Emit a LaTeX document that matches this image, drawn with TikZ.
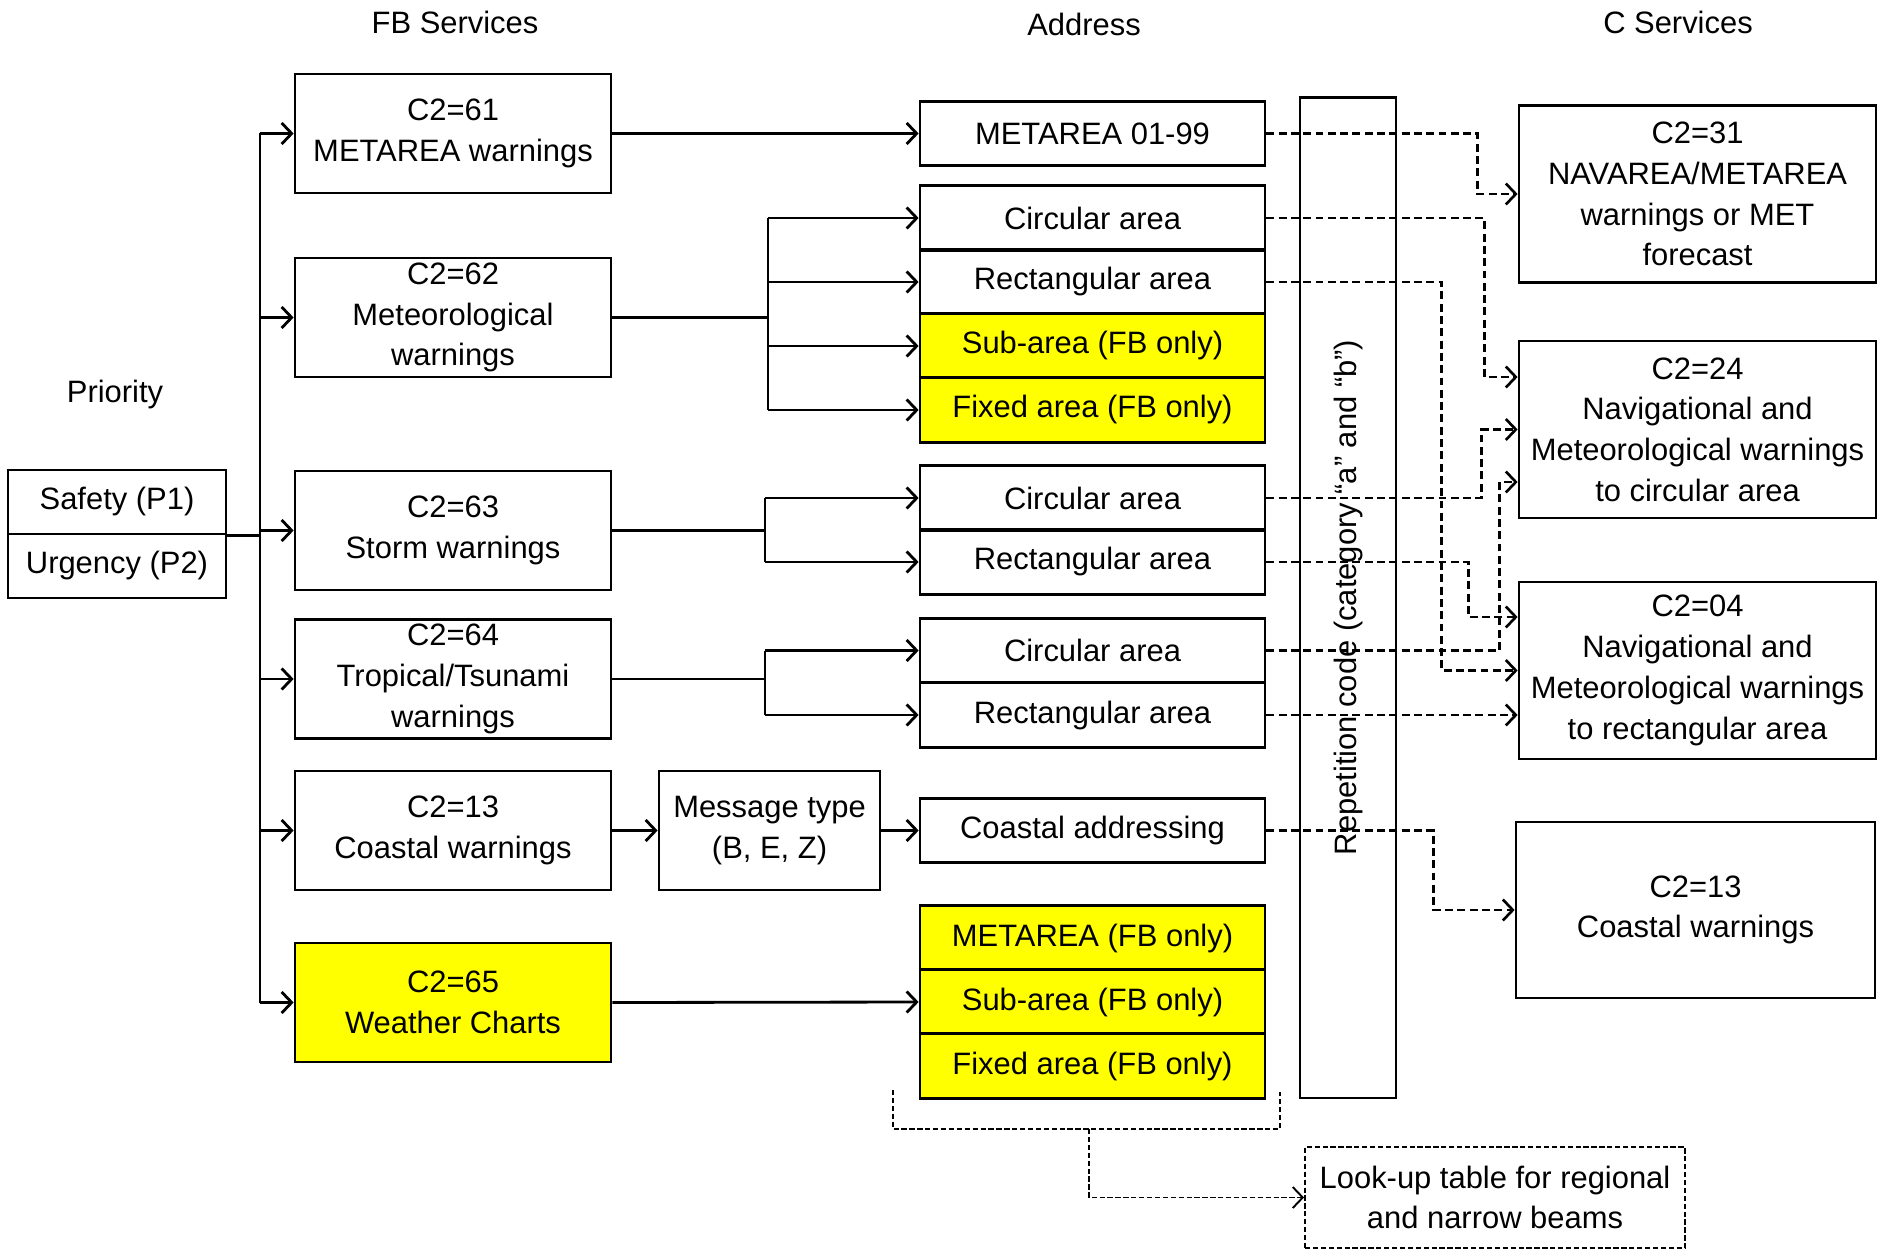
\documentclass[tikz,border=0pt]{standalone}
\usepackage{fontspec}
\setmainfont{Liberation Sans}
\usetikzlibrary{arrows.meta}
\definecolor{fbyellow}{RGB}{255,255,0}

\begin{document}
\begin{tikzpicture}[x=0.02cm, y=-0.02cm, line width=1.6pt,
                    font=\fontsize{17.6pt}{23.2pt}\selectfont,
                    >={Straight Barb[length=0.2cm,width=0.42cm]},
                    box node/.style={draw, align=center, inner sep=0pt},
                    fb node/.style={box node, minimum width=6.32cm, minimum height=2.38cm},
                    addr node/.style={box node, minimum width=6.9cm, minimum height=1.29cm},
                    c node/.style={box node, minimum width=7.14cm, minimum height=3.54cm},
                    pri node/.style={box node, minimum width=4.36cm, minimum height=1.28cm},
                    fb only/.style={fill=fbyellow},
                    dashed link/.style={dash pattern=on 4.5pt off 2.5pt, line width=1.5pt},
                    thin link/.style={dash pattern=on 3pt off 1.5pt, line width=1.1pt}]

          \useasboundingbox (0,0) rectangle (1879,1250);

          \node (tfb) at (455,22) {FB Services};
          \node (taddr) at (1084,24) {Address};
          \node (tc) at (1678,22) {C Services};
          \node (tpri) at (115,395) {Priority};

          \node[pri node] (p1) at (117,502) {Safety (P1)};
          \node[pri node] (p2) at (117,566) {Urgency (P2)};

          \node[fb node] (f61) at (453,133.5) {C2=61\\METAREA warnings};
          \node[fb node] (f62) at (453,317.5) {C2=62\\Meteorological\\warnings};
          \node[fb node] (f63) at (453,530.5) {C2=63\\Storm warnings};
          \node[fb node] (f64) at (453,679) {C2=64\\Tropical/Tsunami\\warnings};
          \node[fb node] (f13) at (453,830.5) {C2=13\\Coastal warnings};
          \node[fb node, fb only] (f65) at (453,1002.5) {C2=65\\Weather Charts};

          \node[box node, minimum width=4.42cm, minimum height=2.38cm] (mt) at (769.5,830.5) {Message type\\(B, E, Z)};

          \node[addr node] (a1) at (1092.5,133.5) {METAREA 01-99};
          \node[addr node] (a2) at (1092.5,218) {Circular area};
          \node[addr node] (a3) at (1092.5,282) {Rectangular area};
          \node[addr node, fb only] (a4) at (1092.5,346) {Sub-area (FB only)};
          \node[addr node, fb only] (a5) at (1092.5,410) {Fixed area (FB only)};
          \node[addr node] (b1) at (1092.5,498) {Circular area};
          \node[addr node] (b2) at (1092.5,562) {Rectangular area};
          \node[addr node] (d1) at (1092.5,650.5) {Circular area};
          \node[addr node] (d2) at (1092.5,715) {Rectangular area};
          \node[addr node] (e1) at (1092.5,830.5) {Coastal addressing};
          \node[addr node, fb only] (g1) at (1092.5,938) {METAREA (FB only)};
          \node[addr node, fb only] (g2) at (1092.5,1002) {Sub-area (FB only)};
          \node[addr node, fb only] (g3) at (1092.5,1066) {Fixed area (FB only)};

          \node[box node, minimum width=20.02cm, minimum height=1.92cm, rotate=90] (rep) at (1348,597.5)
            {Repetition code (category “a” and “b”)};

          \node[c node] (c31) at (1697.5,194) {C2=31\\NAVAREA/METAREA\\warnings or MET\\forecast};
          \node[c node] (c24) at (1697.5,429.5) {C2=24\\Navigational and\\Meteorological warnings\\to circular area};
          \node[c node] (c04) at (1697.5,670.5) {C2=04\\Navigational and\\Meteorological warnings\\to rectangular area};
          \node[c node, minimum width=7.18cm, minimum height=3.52cm] (c13) at (1695.5,910) {C2=13\\Coastal warnings};

          \node[box node, thin link, minimum width=7.6cm, minimum height=2.02cm] (look) at (1495,1197.5)
            {Look-up table for regional\\and narrow beams};

          \coordinate (t) at (260,0);
          \coordinate (br62) at (768,0);
          \coordinate (br63) at (765,0);
          \coordinate (brl) at (893,1090);
          \coordinate (brm) at (1089,1129);
          \coordinate (brr) at (1280,1092);

          \draw (p1.south east) -- (p1.south east -| t);
          \draw (t |- f61.west) -- (t |- f65.west);
          \draw (f62.east) -- (f62.east -| br62);
          \draw (br62 |- a2.west) -- (br62 |- a5.west);
          \draw (f63.east) -- (f63.east -| br63);
          \draw (br63 |- b1.west) -- (br63 |- b2.west);
          \draw (f64.east) -- (f64.east -| br63);
          \draw (br63 |- d1.west) -- (br63 |- d2.west);

          \path[->]
            (t |- f61.west) edge (f61.west)
            (t |- f62.west) edge (f62.west)
            (t |- f63.west) edge (f63.west)
            (t |- f64.west) edge (f64.west)
            (t |- f13.west) edge (f13.west)
            (t |- f65.west) edge (f65.west)
            (f61.east) edge (a1.west)
            (br62 |- a2.west) edge (a2.west)
            (br62 |- a3.west) edge (a3.west)
            (br62 |- a4.west) edge (a4.west)
            (br62 |- a5.west) edge (a5.west)
            (br63 |- b1.west) edge (b1.west)
            (br63 |- b2.west) edge (b2.west)
            (br63 |- d1.west) edge (d1.west)
            (br63 |- d2.west) edge (d2.west)
            (f13.east) edge (mt.west)
            (mt.east) edge (e1.west)
            (f65.east) edge (g2.west);

          \draw[dashed link, ->] (a1.east) -- ++(211,0) |- (c31.west);
          \draw[dashed link, ->] (a2.east) -- ++(218,0) |- ([yshift=1.05cm]c24.west);
          \draw[dashed link, ->] (a3.east) -- ++(175,0) |- (c04.west);
          \draw[dashed link, ->] (b1.east) -- ++(215,0) |- (c24.west);
          \draw[dashed link, ->] (b2.east) -- ++(202,0) |- ([yshift=1.07cm]c04.west);
          \draw[dashed link, ->] (d1.east) -- ++(233,0) |- ([yshift=-1.05cm]c24.west);
          \draw[dashed link, ->] (d2.east) -- (d2.east -| c04.west);
          \draw[dashed link, ->] (e1.east) -- ++(167,0) |- (c13.west);

          \draw[thin link] (brl) |- (brm) -| (brr);
          \draw[thin link, ->] (brm) |- (look.west);
        \end{tikzpicture}
\end{document}
